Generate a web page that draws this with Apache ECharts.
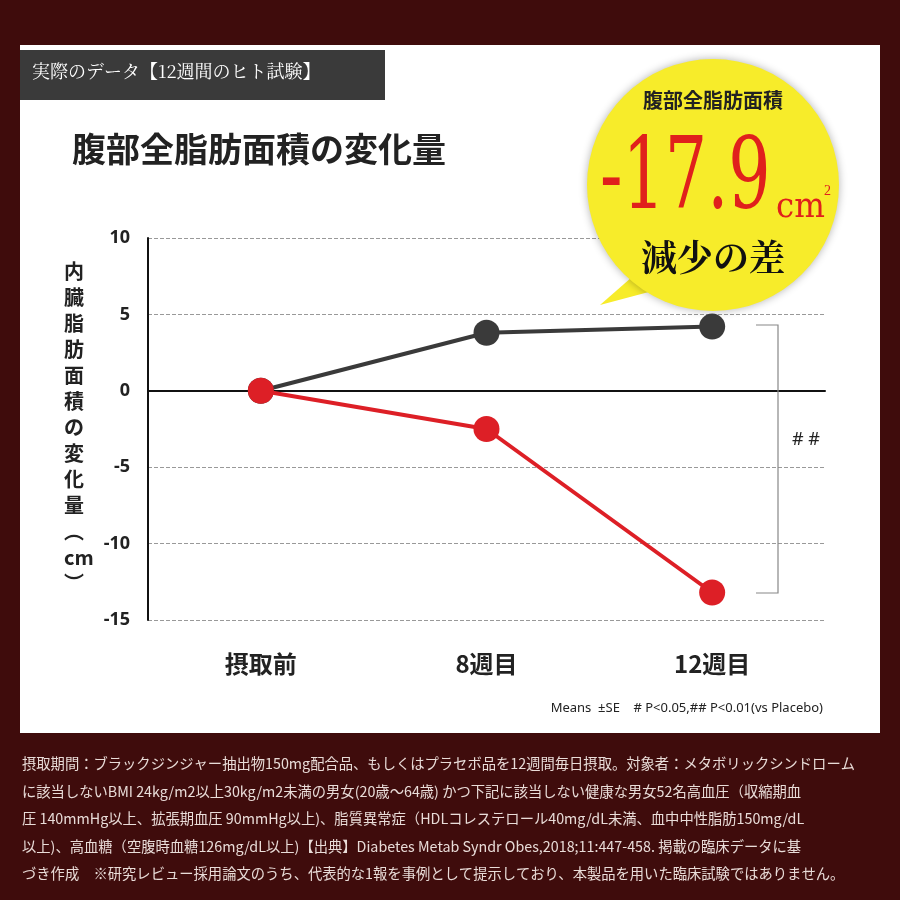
<!DOCTYPE html>
<html><head><meta charset="utf-8">
<script src="https://cdn.jsdelivr.net/npm/echarts@6/dist/echarts.min.js"></script>
<style>html,body{margin:0;padding:0;background:#3f0c0c}#c{width:900px;height:900px}</style>
</head><body><div id="c"></div>
<script>
const categories = ['摂取前', '8週目', '12週目'];
const placebo = [0, 3.8, 4.2];
const ginger = [0, -2.5, -13.2];
const yTicks = [10, 5, 0, -5, -10, -15];
const footer = [
'摂取期間：ブラックジンジャー抽出物150mg配合品、もしくはプラセボ品を12週間毎日摂取。対象者：メタボリックシンドローム',
'に該当しないBMI 24kg/m2以上30kg/m2未満の男女(20歳～64歳) かつ下記に該当しない健康な男女52名高血圧（収縮期血',
'圧 140mmHg以上、拡張期血圧 90mmHg以上)、脂質異常症（HDLコレステロール40mg/dL未満、血中中性脂肪150mg/dL',
'以上)、高血糖（空腹時血糖126mg/dL以上)【出典】Diabetes Metab Syndr Obes,2018;11:447-458. 掲載の臨床データに基',
'づき作成　※研究レビュー採用論文のうち、代表的な1報を事例として提示しており、本製品を用いた臨床試験ではありません。'
];
const F = '"Noto Sans CJK JP", sans-serif';
const chart = echarts.init(document.getElementById('c'));
const g = [
 {type:'rect', z:0, shape:{x:20,y:45,width:860,height:688}, style:{fill:'#ffffff'}},
 {type:'rect', z:1, shape:{x:20,y:50,width:365,height:50}, style:{fill:'#3a3a3a'}},
 {type:'text', z:2, left:32, top:62, style:{text:'実際のデータ【12週間のヒト試験】', fill:'#fff', font:'18px "Noto Serif CJK JP","Noto Sans CJK JP"'}},
 {type:'text', z:2, left:72, top:132, style:{text:'腹部全脂肪面積の変化量', fill:'#222', font:'bold 34px "Noto Sans CJK JP"'}},
 {type:'text', z:2, left:64, top:258, style:{text:'内\n臓\n脂\n肪\n面\n積\nの\n変\n化\n量\n︵\ncm\n︶', fill:'#222', font:'bold 20px "Noto Sans CJK JP"', lineHeight:26, align:'center'}},
 {type:'polygon', z:3, shape:{points:[[640,270],[600,305],[675,285]]}, style:{fill:'#f7ec2a'}},
 {type:'circle', z:3, shape:{cx:713,cy:185,r:126}, style:{fill:'#f7ec2a', shadowBlur:8, shadowColor:'rgba(0,0,0,0.3)'}},
 {type:'text', z:4, x:713, y:100, style:{text:'腹部全脂肪面積', fill:'#222', font:'bold 20px "Noto Sans CJK JP"', align:'center', verticalAlign:'middle'}},
 {type:'text', z:4, x:600, y:232, scaleY:1.35, style:{text:'-17.9', fill:'#e0201c', font:'74px "DejaVu Serif Condensed", serif', verticalAlign:'bottom'}},
 {type:'text', z:4, x:776, y:226, style:{text:'cm', fill:'#e0201c', font:'36px "DejaVu Serif Condensed", serif', verticalAlign:'bottom'}},
 {type:'text', z:4, x:824, y:198, style:{text:'2', fill:'#e0201c', font:'14px serif', verticalAlign:'bottom'}},
 {type:'text', z:4, x:713, y:257, style:{text:'減少の差', fill:'#111', font:'bold 36px "Noto Serif CJK JP","Noto Sans CJK JP"', align:'center', verticalAlign:'middle'}},
 {type:'polyline', z:2, shape:{points:[[756,325],[778,325],[778,593],[756,593]]}, style:{stroke:'#888', lineWidth:1.2, fill:null}},
 {type:'text', z:2, x:806, y:440, style:{text:'# #', fill:'#222', font:'18px "Noto Sans"', align:'center', verticalAlign:'middle'}},
 {type:'text', z:2, x:823, y:708, style:{text:'Means  ±SE    # P<0.05,## P<0.01(vs Placebo)', fill:'#222', font:'13px "Noto Sans"', align:'right', verticalAlign:'middle'}},
 {type:'text', z:2, left:22, top:750, style:{text:footer.join('\n'), fill:'#e9dcd8', font:'14.3px "Noto Sans CJK JP"', lineHeight:27.5}}
];
chart.setOption({
 animation:false,
 graphic:g,
 grid:{left:148,right:75,top:238,bottom:280},
 xAxis:{type:'category', data:categories, axisLine:{lineStyle:{color:'#111',width:2}}, axisTick:{show:false},
   axisLabel:{color:'#222', fontSize:24, fontWeight:'bold', margin:32, fontFamily:F}},
 yAxis:{type:'value', min:-15, max:10, interval:5, axisLine:{show:true,lineStyle:{color:'#111',width:2}}, axisTick:{show:false},
   splitLine:{lineStyle:{type:'dashed',color:'#999'}}, axisLabel:{color:'#222',fontSize:18,fontWeight:'bold',margin:18,fontFamily:'Noto Sans'}},
 series:[
  {type:'line', data:placebo, symbol:'circle', symbolSize:26, z:5, lineStyle:{color:'#3a3a3a',width:4}, itemStyle:{color:'#3a3a3a'}},
  {type:'line', data:ginger, symbol:'circle', symbolSize:26, z:6, lineStyle:{color:'#dd1f26',width:4}, itemStyle:{color:'#dd1f26'}}
 ]
});
</script></body></html>
